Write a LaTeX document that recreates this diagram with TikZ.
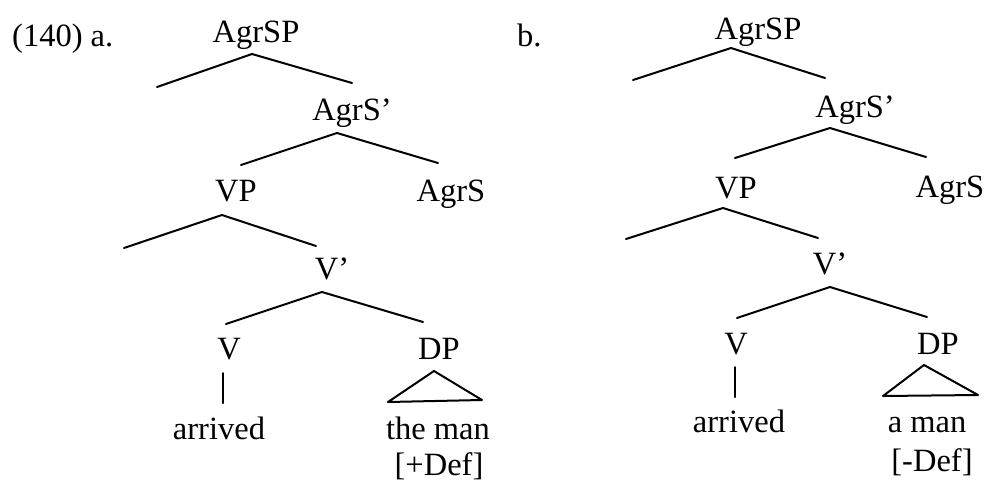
\documentclass[tikz,border=0pt]{standalone}
\usepackage{fontspec}
\setmainfont{Liberation Serif}
\begin{document}
\begin{tikzpicture}[x=1pt,y=-1pt,
  lbl/.style={inner sep=0pt,anchor=base,font=\fontsize{32.5}{38}\selectfont},
  br/.style={line width=2pt,line cap=round,line join=round}]
\useasboundingbox (0,0) rectangle (985,483);
% ---------- tree a ----------
\node[lbl,anchor=base west] (la) at (12,46) {(140) a.};
\node[lbl] (aSP) at (256,42) {AgrSP};
\node[lbl] (aSb) at (352,120) {AgrS’};
\node[lbl] (aVP) at (236,201) {VP};
\node[lbl] (aS) at (451,201) {AgrS};
\node[lbl] (aVb) at (332,279) {V’};
\node[lbl] (aV) at (229,359) {V};
\node[lbl] (aDP) at (439,359) {DP};
\node[lbl] (aarr) at (219,439) {arrived};
\node[lbl] (aman) at (438,439) {the man};
\node[lbl] (adef) at (439,475) {[+Def]};
\coordinate (a1t) at (252,54); \coordinate (a1l) at (157,87); \coordinate (a1r) at (352,83);
\coordinate (a2t) at (337,133); \coordinate (a2l) at (241,165); \coordinate (a2r) at (438,163);
\coordinate (a3t) at (222,215); \coordinate (a3l) at (124,248); \coordinate (a3r) at (316,246);
\coordinate (a4t) at (322,292); \coordinate (a4l) at (226,324); \coordinate (a4r) at (423,322);
\coordinate (a5t) at (223,373); \coordinate (a5b) at (223,403);
\coordinate (a6t) at (434,371); \coordinate (a6l) at (388,402); \coordinate (a6r) at (482,400);
\draw[br] (a1l) -- (a1t) -- (a1r);
\draw[br] (a2l) -- (a2t) -- (a2r);
\draw[br] (a3l) -- (a3t) -- (a3r);
\draw[br] (a4l) -- (a4t) -- (a4r);
\draw[br] (a5t) -- (a5b);
\draw[br] (a6l) -- (a6t) -- (a6r) -- cycle;
% ---------- tree b ----------
\node[lbl,anchor=base west] (lb) at (517,46) {b.};
\node[lbl] (bSP) at (758,39) {AgrSP};
\node[lbl] (bSb) at (855,117) {AgrS’};
\node[lbl] (bVP) at (736,198) {VP};
\node[lbl] (bS) at (950,197) {AgrS};
\node[lbl] (bVb) at (830,274) {V’};
\node[lbl] (bV) at (736,354) {V};
\node[lbl] (bDP) at (938,354) {DP};
\node[lbl] (barr) at (739,432) {arrived};
\node[lbl] (bman) at (927,432) {a man};
\node[lbl] (bdef) at (932,471) {[-Def]};
\coordinate (b1t) at (731,48); \coordinate (b1l) at (633,80); \coordinate (b1r) at (825,78);
\coordinate (b2t) at (830,128); \coordinate (b2l) at (735,158); \coordinate (b2r) at (926,157);
\coordinate (b3t) at (723,208); \coordinate (b3l) at (626,239); \coordinate (b3r) at (818,238);
\coordinate (b4t) at (830,287); \coordinate (b4l) at (737,318); \coordinate (b4r) at (927,317);
\coordinate (b5t) at (735,367); \coordinate (b5b) at (735,397);
\coordinate (b6t) at (924,365); \coordinate (b6l) at (883,396); \coordinate (b6r) at (978,395);
\draw[br] (b1l) -- (b1t) -- (b1r);
\draw[br] (b2l) -- (b2t) -- (b2r);
\draw[br] (b3l) -- (b3t) -- (b3r);
\draw[br] (b4l) -- (b4t) -- (b4r);
\draw[br] (b5t) -- (b5b);
\draw[br] (b6l) -- (b6t) -- (b6r) -- cycle;
\end{tikzpicture}
\end{document}
